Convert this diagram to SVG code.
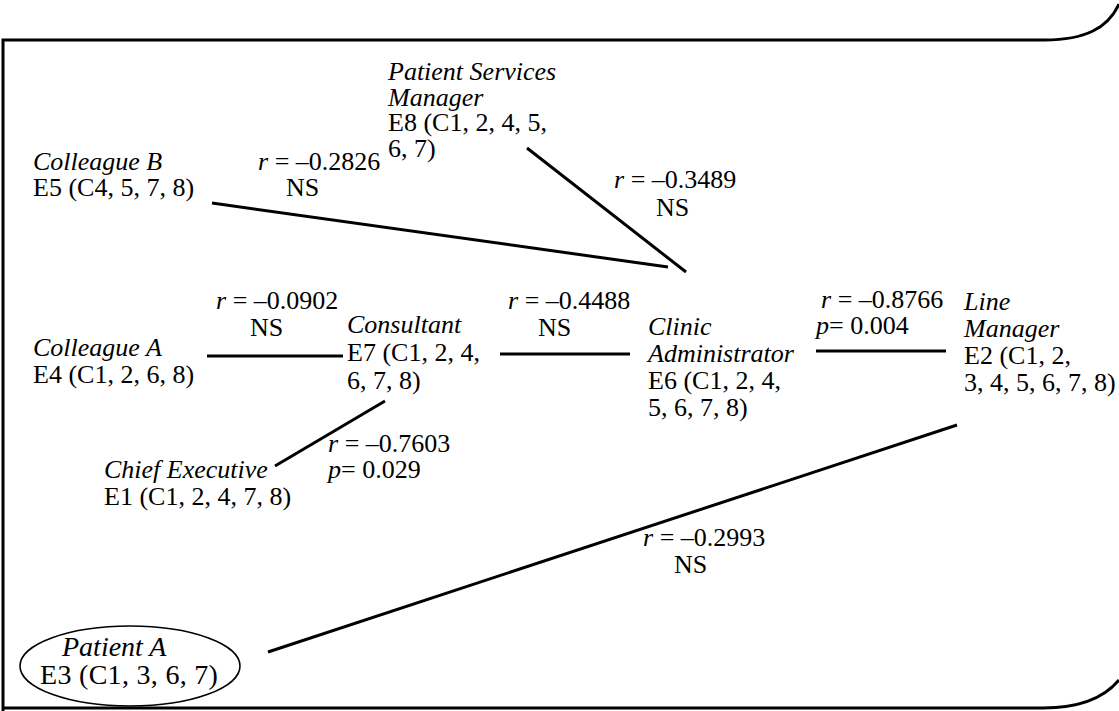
<svg xmlns="http://www.w3.org/2000/svg" width="1119" height="711" viewBox="0 0 1119 711">
  <style>
    text { font-family: "Liberation Serif", "Times New Roman", serif; font-size: 26px; fill: #000; }
    .role { font-style: italic; }
    .big { font-size: 28px; }
    .frame { fill: none; stroke: #000; stroke-width: 3; }
    .link { stroke: #000; stroke-width: 3; stroke-linecap: butt; fill: none; }
    .oval { fill: none; stroke: #000; stroke-width: 1.6; }
  </style>

  <rect x="0" y="0" width="1119" height="711" fill="#fff"/>

  <!-- page frame with rounded right-hand corners -->
  <g id="frame">
    <path class="frame" d="M3,711 L3,40 L1045,40 C1085,40 1108,28 1119,4"/>
    <path class="frame" d="M3,708 L1043,708 C1080,708 1105,697 1119,680"/>
  </g>

  <!-- correlation links between evaluators -->
  <g id="connectors">
    <line class="link" x1="212" y1="203" x2="668" y2="267"/>
    <line class="link" x1="527" y1="148" x2="686" y2="272"/>
    <line class="link" x1="207" y1="356" x2="343" y2="356"/>
    <line class="link" x1="500" y1="354" x2="630" y2="354"/>
    <line class="link" x1="816" y1="351" x2="946" y2="351"/>
    <line class="link" x1="385" y1="401" x2="275" y2="466"/>
    <line class="link" x1="268" y1="652" x2="957" y2="425"/>
  </g>

  <!-- evaluators -->
  <g id="e8">
    <text class="role" x="388" y="80">Patient Services</text>
    <text class="role" x="388" y="106">Manager</text>
    <text x="388" y="131">E8 (C1, 2, 4, 5,</text>
    <text x="388" y="157">6, 7)</text>
  </g>
  <g id="e5">
    <text class="role" x="33" y="170">Colleague B</text>
    <text x="33" y="196">E5 (C4, 5, 7, 8)</text>
  </g>
  <g id="e4">
    <text class="role" x="33" y="356">Colleague A</text>
    <text x="33" y="383">E4 (C1, 2, 6, 8)</text>
  </g>
  <g id="e7">
    <text class="role" x="347" y="333">Consultant</text>
    <text x="347" y="361">E7 (C1, 2, 4,</text>
    <text x="347" y="389">6, 7, 8)</text>
  </g>
  <g id="e6">
    <text class="role" x="648" y="335">Clinic</text>
    <text class="role" x="648" y="362">Administrator</text>
    <text x="648" y="389">E6 (C1, 2, 4,</text>
    <text x="648" y="416">5, 6, 7, 8)</text>
  </g>
  <g id="e2">
    <text class="role" x="964" y="310">Line</text>
    <text class="role" x="964" y="337">Manager</text>
    <text x="964" y="364">E2 (C1, 2,</text>
    <text x="964" y="391">3, 4, 5, 6, 7, 8)</text>
  </g>
  <g id="e1">
    <text class="role" x="104" y="478">Chief Executive</text>
    <text x="104" y="505">E1 (C1, 2, 4, 7, 8)</text>
  </g>
  <g id="e3">
    <ellipse class="oval" cx="130" cy="666" rx="110" ry="40"/>
    <text class="role big" x="62" y="656">Patient A</text>
    <text class="big" x="40" y="684" letter-spacing="0.3">E3 (C1, 3, 6, 7)</text>
  </g>

  <!-- correlation coefficients -->
  <g id="stats">
    <text x="258" y="170"><tspan class="role">r</tspan> = –0.2826</text>
    <text x="286" y="196">NS</text>
    <text x="614" y="188"><tspan class="role">r</tspan> = –0.3489</text>
    <text x="656" y="216">NS</text>
    <text x="216" y="309"><tspan class="role">r</tspan> = –0.0902</text>
    <text x="250" y="336">NS</text>
    <text x="508" y="309"><tspan class="role">r</tspan> = –0.4488</text>
    <text x="538" y="336">NS</text>
    <text x="821" y="308"><tspan class="role">r</tspan> = –0.8766</text>
    <text x="816" y="334"><tspan class="role">p</tspan>= 0.004</text>
    <text x="328" y="452"><tspan class="role">r</tspan> = –0.7603</text>
    <text x="328" y="478"><tspan class="role">p</tspan>= 0.029</text>
    <text x="643" y="546"><tspan class="role">r</tspan> = –0.2993</text>
    <text x="674" y="573">NS</text>
  </g>
</svg>
